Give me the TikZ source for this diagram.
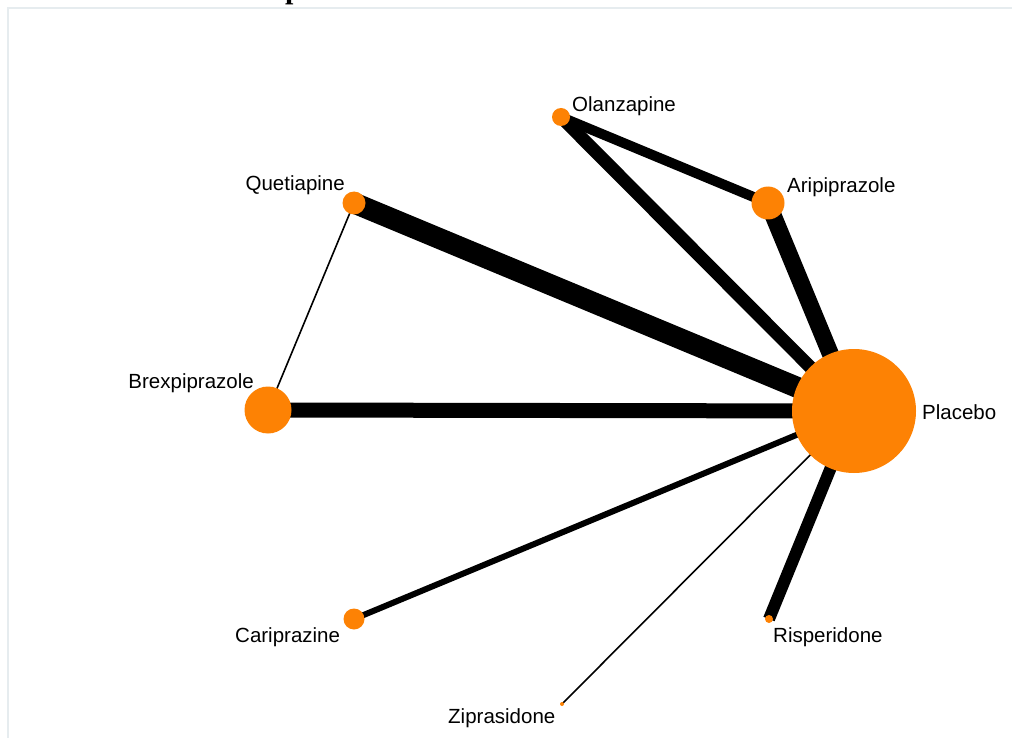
\documentclass[tikz,border=0pt]{standalone}
\usepackage{fontspec}
\setmainfont{Liberation Sans}
\newfontfamily\titlefont{Liberation Serif}
\usetikzlibrary{positioning,backgrounds}
\definecolor{drugorange}{HTML}{FD8204}
\definecolor{framegray}{HTML}{E6ECEF}
\tikzset{
    drug/.style={circle, fill=drugorange, inner sep=0pt, minimum size=#1},
    lbl/.style={inner sep=0pt, font=\fontsize{20.5}{24}\selectfont},
    link/.style={draw=black, line width=#1, line cap=butt}
}

\begin{document}
\begin{tikzpicture}[x=1pt, y=-1pt]
    \useasboundingbox (0,0) rectangle (1012,738);

    % frame and cut title
    \draw[framegray, line width=1.2pt] (8,760) |- (1030,8);
    \node[font=\titlefont\bfseries\fontsize{30}{36}\selectfont, inner sep=0pt, anchor=base west] (ttl) at (285,-1) {p};

    % treatments
    \node[drug=124pt] (plc) at (854,411) {};
    \node[drug=18pt] (olz) at (561,117) {};
    \node[drug=33pt] (ari) at (768,203) {};
    \node[drug=23pt] (que) at (354,203) {};
    \node[drug=47pt] (brx) at (268,410) {};
    \node[drug=21pt] (car) at (354,619) {};
    \node[drug=8pt] (ris) at (769,619) {};
    \node[drug=4pt] (zip) at (562,704) {};

    % comparisons
    \begin{scope}[on background layer]
        \draw[link=21pt] (que.center) -- (plc.center);
        \draw[link=15pt] (brx.center) -- (plc.center);
        \draw[link=17pt] (ari.center) -- (plc.center);
        \draw[link=13pt] (olz.center) -- (plc.center);
        \draw[link=10pt] (olz.center) -- (ari.center);
        \draw[link=12pt] (ris.center) -- (plc.center);
        \draw[link=6pt] (car.center) -- (plc.center);
        \draw[link=1.6pt] (zip.center) -- (plc.center);
        \draw[link=1.6pt] (que.center) -- (brx.center);
    \end{scope}

    % labels
    \node[lbl, anchor=base west] (plcL) at (922,419) {Placebo};
    \node[lbl, anchor=base west] (olzL) at (572,112) {Olanzapine};
    \node[lbl, anchor=base west] (ariL) at (787,193) {Aripiprazole};
    \node[lbl, anchor=base east] (queL) at (345,191) {Quetiapine};
    \node[lbl, anchor=base east] (brxL) at (254,388) {Brexpiprazole};
    \node[lbl, anchor=base west] (carL) at (235,642) {Cariprazine};
    \node[lbl, anchor=base west] (risL) at (773,642) {Risperidone};
    \node[lbl, anchor=base west] (zipL) at (448,723) {Ziprasidone};
\end{tikzpicture}
\end{document}
